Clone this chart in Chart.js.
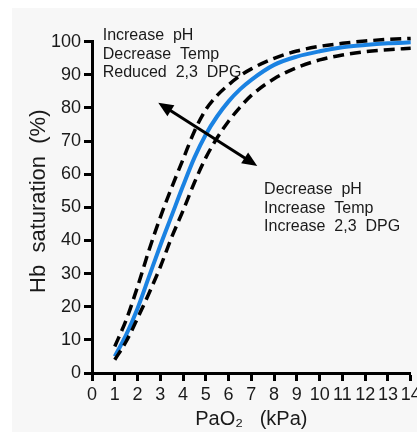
<!DOCTYPE html>
<html>
<head>
<meta charset="utf-8">
<script src="https://cdn.jsdelivr.net/npm/chart.js@4/dist/chart.umd.min.js"></script>
<style>
  html, body { margin: 0; padding: 0; background: #ffffff; overflow: hidden; }
  #wrap { width: 417px; height: 432px; position: relative; }
</style>
</head>
<body>
<div id="wrap"><canvas id="c" width="417" height="432"></canvas></div>
<script>
// ---- data ----
const pao2 = [1, 1.5, 2, 2.5, 3, 3.5, 4, 4.5, 5, 5.5, 6, 6.5, 7, 8, 9, 10, 11, 12, 13, 14];
const normalCurve = [5, 11.5, 19.5, 29, 38.5, 47.5, 56.5, 65, 72, 77.5, 82, 85.6, 88.5, 93, 95.5, 97.1, 98.3, 99, 99.5, 99.8];
const leftShiftCurve = [8, 16, 26, 37, 47, 56, 64.5, 73, 79.5, 83.8, 87, 89.7, 91.8, 95, 97.2, 98.6, 99.5, 100.2, 100.7, 101];
const rightShiftCurve = [4, 9.5, 16.5, 24, 32, 41, 49, 57.5, 65, 71, 76, 80.2, 83.8, 88.8, 92.2, 94.5, 96, 97, 97.6, 98];
const yTicks = [0, 10, 20, 30, 40, 50, 60, 70, 80, 90, 100];
const xTicks = [0, 1, 2, 3, 4, 5, 6, 7, 8, 9, 10, 11, 12, 13, 14];
const leftLabel = ['Increase  pH', 'Decrease  Temp', 'Reduced  2,3  DPG'];
const rightLabel = ['Decrease  pH', 'Increase  Temp', 'Increase  2,3  DPG'];
const leftLabelAt = [0.47, 100.5];
const rightLabelAt = [7.56, 54.0];
const arrowFrom = [2.91, 81.6];
const arrowTo = [7.26, 62.5];

const FONT = '"Liberation Sans", Arial, Helvetica, sans-serif';

function toPts(xs, ys) { return xs.map((x, i) => ({ x: x, y: ys[i] })); }

const bgPlugin = {
  id: 'bg',
  beforeDraw(chart) {
    const ctx = chart.ctx;
    ctx.save();
    ctx.fillStyle = '#f7f7f7';
    ctx.fillRect(12, 8, chart.width - 12, chart.height - 8);
    ctx.restore();
  }
};

function drawHead(ctx, tip, from, len, half) {
  const dx = tip.x - from.x, dy = tip.y - from.y;
  const d = Math.hypot(dx, dy);
  const ux = dx / d, uy = dy / d;
  const bx = tip.x - ux * len, by = tip.y - uy * len;
  ctx.beginPath();
  ctx.moveTo(tip.x, tip.y);
  ctx.lineTo(bx - uy * half, by + ux * half);
  ctx.lineTo(bx + uy * half, by - ux * half);
  ctx.closePath();
  ctx.fill();
}

const notePlugin = {
  id: 'notes',
  afterDatasetsDraw(chart) {
    const ctx = chart.ctx;
    const xs = chart.scales.x, ys = chart.scales.y;
    ctx.save();
    ctx.fillStyle = '#1a1a1a';
    ctx.font = '16px ' + FONT;
    ctx.textAlign = 'left';
    ctx.textBaseline = 'alphabetic';
    const lh = 18.5;
    const lx = xs.getPixelForValue(leftLabelAt[0]);
    const ly = ys.getPixelForValue(leftLabelAt[1]);
    leftLabel.forEach((t, i) => ctx.fillText(t, lx, ly + i * lh));
    const rx = xs.getPixelForValue(rightLabelAt[0]);
    const ry = ys.getPixelForValue(rightLabelAt[1]);
    rightLabel.forEach((t, i) => ctx.fillText(t, rx, ry + i * lh));

    // double-headed arrow
    const a = { x: xs.getPixelForValue(arrowFrom[0]), y: ys.getPixelForValue(arrowFrom[1]) };
    const b = { x: xs.getPixelForValue(arrowTo[0]), y: ys.getPixelForValue(arrowTo[1]) };
    const dx = b.x - a.x, dy = b.y - a.y, d = Math.hypot(dx, dy);
    const ux = dx / d, uy = dy / d, hl = 15;
    ctx.strokeStyle = '#000';
    ctx.fillStyle = '#000';
    ctx.lineWidth = 3;
    ctx.beginPath();
    ctx.moveTo(a.x + ux * (hl - 2), a.y + uy * (hl - 2));
    ctx.lineTo(b.x - ux * (hl - 2), b.y - uy * (hl - 2));
    ctx.stroke();
    drawHead(ctx, a, b, hl, 6.5);
    drawHead(ctx, b, a, hl, 6.5);
    ctx.restore();
  }
};

new Chart(document.getElementById('c'), {
  type: 'line',
  data: {
    datasets: [
      {
        label: 'Left shift',
        data: toPts(pao2, leftShiftCurve),
        borderColor: '#000000',
        borderWidth: 3.5,
        borderDash: [11, 6],
        pointRadius: 0,
        cubicInterpolationMode: 'monotone',
        clip: false
      },
      {
        label: 'Right shift',
        data: toPts(pao2, rightShiftCurve),
        borderColor: '#000000',
        borderWidth: 3.5,
        borderDash: [11, 6],
        pointRadius: 0,
        cubicInterpolationMode: 'monotone',
        clip: false
      },
      {
        label: 'Normal',
        data: toPts(pao2, normalCurve),
        borderColor: '#1a82e2',
        borderWidth: 4,
        pointRadius: 0,
        cubicInterpolationMode: 'monotone',
        clip: false
      }
    ]
  },
  options: {
    responsive: false,
    animation: false,
    devicePixelRatio: 1,
    layout: { padding: { left: 0, right: 6.3, top: 41.7, bottom: 0 } },
    plugins: { legend: { display: false }, tooltip: { enabled: false } },
    scales: {
      x: {
        type: 'linear',
        min: xTicks[0],
        max: xTicks[xTicks.length - 1],
        afterBuildTicks(scale) { scale.ticks = xTicks.map(v => ({ value: v })); },
        afterFit(scale) { scale.height = 59; scale.paddingLeft = 0; scale.paddingRight = 0; },
        ticks: { autoSkip: false, maxRotation: 0, minRotation: 0, padding: 3,
                 color: '#1a1a1a', font: { family: FONT, size: 18 } },
        grid: { drawOnChartArea: false, drawTicks: true, tickLength: 8, tickWidth: 3, tickColor: '#000' },
        border: { display: true, color: '#000', width: 3 },
        title: { display: true, text: 'PaO₂   (kPa)', color: '#1a1a1a',
                 font: { family: FONT, size: 20 }, padding: { top: 0, bottom: 1 } }
      },
      y: {
        type: 'linear',
        min: yTicks[0],
        max: yTicks[yTicks.length - 1],
        afterBuildTicks(scale) { scale.ticks = yTicks.map(v => ({ value: v })); },
        afterFit(scale) { scale.width = 92; scale.paddingTop = 0; scale.paddingBottom = 0; },
        ticks: { padding: 3, color: '#1a1a1a', font: { family: FONT, size: 18 } },
        grid: { drawOnChartArea: false, drawTicks: true, tickLength: 8, tickWidth: 3, tickColor: '#000' },
        border: { display: true, color: '#000', width: 3 },
        title: { display: true, text: '  Hb  saturation  (%)', color: '#1a1a1a',
                 font: { family: FONT, size: 22 }, padding: { top: 26, bottom: 0 } }
      }
    }
  },
  plugins: [bgPlugin, notePlugin]
});
</script>
</body>
</html>
